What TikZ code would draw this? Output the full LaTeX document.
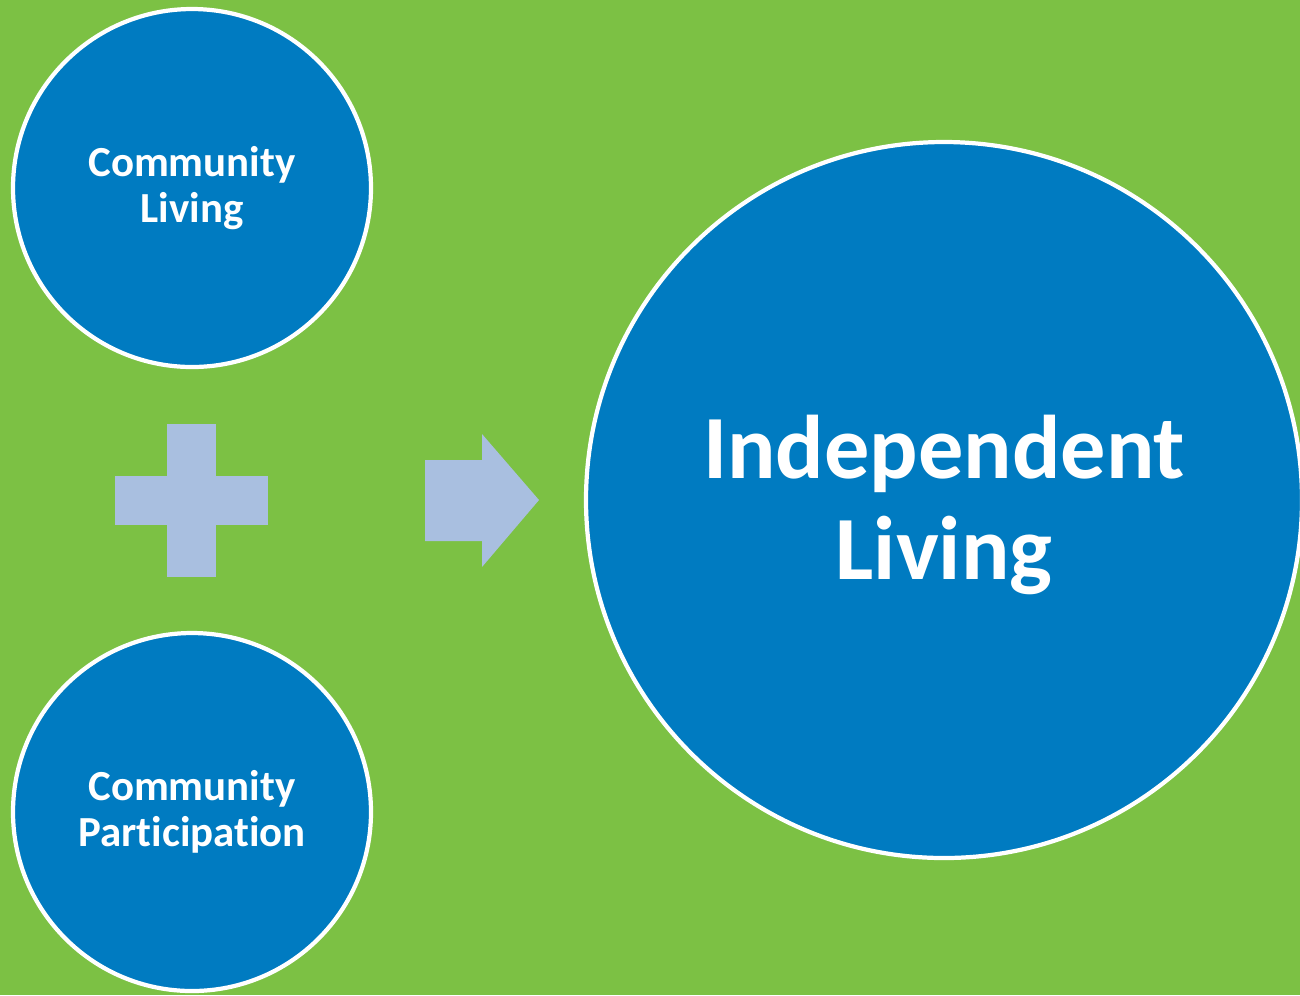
\documentclass[tikz,border=0pt]{standalone}
\usepackage{fontspec}
\setmainfont{Carlito}[Ligatures=NoCommon]

\definecolor{leafgreen}{RGB}{124,193,68}
\definecolor{oceanblue}{RGB}{0,123,193}
\definecolor{paleblue}{RGB}{169,191,224}

\begin{document}
\begin{tikzpicture}[
    bubble/.style={circle, draw=white, line width=1.2pt, fill=oceanblue,
                   text=white, align=center, inner sep=0pt},
    smalltext/.style={font=\bfseries\fontsize{12.2}{13}\selectfont},
    bigtext/.style={text=white, align=center, font=\bfseries\fontsize{25.7}{28.5}\selectfont}]
        % background
        \fill[leafgreen] (0,0) rectangle (13,-9.95);
        \useasboundingbox (0,0) rectangle (13,-9.95);

        % the two small bubbles
        \node[bubble, smalltext, minimum size=3.58cm] (living) at (1.92,-1.88) {Community\\Living};
        \node[bubble, smalltext, minimum size=3.58cm] (partic) at (1.92,-8.12) {Community\\Participation};

        % plus sign
        \fill[paleblue] (1.67,-4.24) rectangle (2.16,-5.77);
        \fill[paleblue] (1.15,-4.76) rectangle (2.68,-5.25);

        % block arrow
        \fill[paleblue] (4.25,-4.60) -- (4.82,-4.60) -- (4.82,-4.34) -- (5.39,-5.00)
              -- (4.82,-5.67) -- (4.82,-5.41) -- (4.25,-5.41) -- cycle;

        % result bubble, text set a little low
        \node[bubble, minimum size=7.16cm] (indep) at (9.44,-5.00) {};
        \node[bigtext] (indeplabel) at ([yshift=-0.05cm]indep.center) {Independent\\Living};
      \end{tikzpicture}
\end{document}
